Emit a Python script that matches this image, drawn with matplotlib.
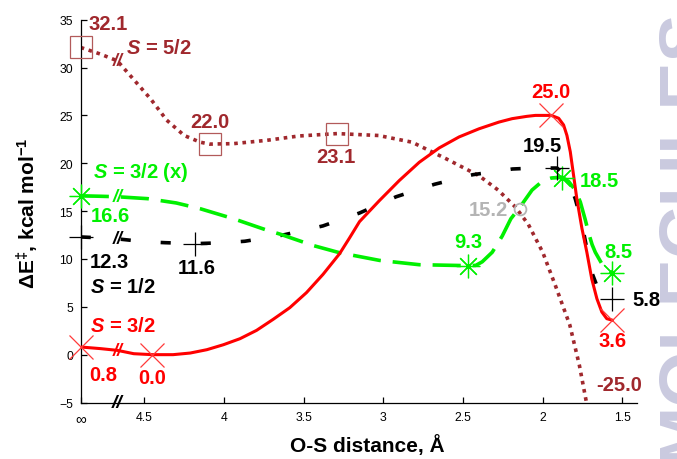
import numpy as np
import matplotlib
matplotlib.use('Agg')
import matplotlib.pyplot as plt

plt.rcParams['font.family'] = ['Liberation Sans', 'DejaVu Sans']
plt.rcParams['mathtext.fontset'] = 'custom'
plt.rcParams['mathtext.rm'] = 'Liberation Sans:bold'
plt.rcParams['mathtext.it'] = 'Liberation Sans:bold:italic'
plt.rcParams['mathtext.bf'] = 'Liberation Sans:bold'

# ---------------- data ----------------
INF = 4.9      # position used for the "infinity" point
BRK = 4.67     # axis-break position

x_ticks = [INF, 4.5, 4.0, 3.5, 3.0, 2.5, 2.0, 1.5]
x_ticklabels = ['\u221e', '4.5', '4', '3.5', '3', '2.5', '2', '1.5']
y_ticks = [-5, 0, 5, 10, 15, 20, 25, 30, 35]

# S = 3/2 (red, solid)
red_x = [INF, 4.775, 4.67, 4.567, 4.45, 4.32, 4.2125, 4.108, 4.004, 3.90, 3.796,
         3.692, 3.5875, 3.483, 3.379, 3.275, 3.2125, 3.15, 3.025, 2.90, 2.775,
         2.65, 2.525, 2.40, 2.275, 2.192, 2.10, 2.046, 1.946, 1.90, 1.869, 1.848,
         1.827, 1.806, 1.786, 1.754, 1.723, 1.692, 1.66, 1.629, 1.598, 1.5625]
red_y = [0.8, 0.63, 0.45, 0.1, 0.0, 0.0, 0.17, 0.52, 1.04, 1.67, 2.54,
         3.69, 4.91, 6.48, 8.39, 10.55, 12.2, 13.9, 16.1, 18.2, 20.1,
         21.6, 22.75, 23.6, 24.3, 24.66, 24.9, 25.0, 25.0, 24.7, 24.0, 22.9,
         21.2, 18.7, 16.3, 13.2, 10.7, 7.9, 5.85, 4.46, 3.76, 3.6]
red_mk_x = [INF, 4.45, 1.946, 1.5625]
red_mk_y = [0.8, 0.0, 25.0, 3.6]

# S = 5/2 (dark red, dotted)
dred_x = [INF, 4.775, 4.67, 4.57, 4.46, 4.36, 4.25, 4.15, 4.09, 3.94, 3.73, 3.53,
          3.29, 3.03, 2.82, 2.61, 2.40, 2.28, 2.17, 2.09, 2.00, 1.92, 1.83,
          1.77, 1.73, 1.68, 1.5625]
dred_y = [32.1, 31.4, 30.7, 28.8, 26.7, 24.5, 22.9, 22.2, 22.0, 22.05, 22.4, 22.85,
          23.1, 22.9, 22.2, 20.5, 18.7, 17.2, 15.4, 13.6, 10.7, 7.2, 3.1,
          -1.1, -4.6, -9.0, -25.0]
dred_mk_x = [INF, 4.09, 3.29]
dred_mk_y = [32.1, 22.0, 23.1]

# S = 3/2 (x) (green, long dashes)
grn_x = [INF, 4.775, 4.67, 4.48, 4.30, 4.15, 3.94, 3.73, 3.65, 3.44, 3.275, 3.025,
         2.775, 2.47, 2.42, 2.38, 2.317, 2.254, 2.233, 2.20, 2.15, 2.067, 2.004,
         1.946, 1.879, 1.8375, 1.796, 1.764, 1.733, 1.71, 1.69, 1.67, 1.629,
         1.5625]
grn_y = [16.6, 16.55, 16.5, 16.3, 15.85, 15.25, 14.2, 13.0, 12.6, 11.4, 10.65, 9.85,
         9.4, 9.3, 9.33, 9.7, 10.7, 12.4, 13.1, 14.2, 15.25, 17.2, 18.1,
         18.46, 18.55, 18.1, 17.2, 15.95, 14.1, 12.6, 11.5, 10.7, 9.5,
         8.5]
grn_mk_x = [INF, 2.47, 1.879, 1.5625]
grn_mk_y = [16.6, 9.3, 18.5, 8.5]

# S = 1/2 (black, short dashes)
blk_x = [INF, 4.775, 4.67, 4.50, 4.37, 4.18, 4.00, 3.87, 3.63, 3.38, 3.15, 2.92,
         2.68, 2.44, 2.19, 2.05, 1.91, 1.86, 1.83, 1.796, 1.77, 1.744, 1.72,
         1.692, 1.66, 1.62, 1.5625]
blk_y = [12.3, 12.2, 12.1, 11.8, 11.7, 11.6, 11.7, 11.85, 12.5, 13.45, 14.8, 16.5,
         17.8, 18.8, 19.4, 19.5, 19.5, 18.7, 17.8, 16.3, 14.7, 12.85, 10.8,
         8.6, 7.2, 6.3, 5.8]
blk_mk_x = [INF, 4.18, 1.91, 1.5625]
blk_mk_y = [12.3, 11.6, 19.5, 5.8]

# grey crossing point
gry_x = [2.145]
gry_y = [15.2]

# ---------------- style ----------------
RED = '#ff0000'
RED_MK = '#ff3a3a'
DRED = '#a0282d'
DRED_MK = '#b25a5a'
GRN = '#00f000'
BLK = '#000000'
GRY = '#b4b4b4'

fig = plt.figure(figsize=(6.77, 4.60), dpi=100)
ax = fig.add_axes([0.1192, 0.1228, 0.8213, 0.8322])

LW = 2.6
ax.plot(dred_x, dred_y, color=DRED, lw=LW, dashes=(1.0, 1.3), zorder=2)
ax.plot(blk_x, blk_y, color=BLK, lw=LW, dashes=(2.8, 8.3), zorder=3)
ax.plot(grn_x, grn_y, color=GRN, lw=LW, dashes=(7.8, 3.3), zorder=4)
ax.plot(red_x, red_y, color=RED, lw=2.2, zorder=5, solid_joinstyle='round')

MS = 17
ax.plot(red_mk_x, red_mk_y, ls='none', marker='x', ms=MS, mew=0.9,
        color=RED_MK, zorder=6, clip_on=False)
ax.plot(dred_mk_x, dred_mk_y, ls='none', marker='s', ms=16, mew=0.9,
        mfc='none', mec=DRED_MK, zorder=6, clip_on=False)
ax.plot(grn_mk_x, grn_mk_y, ls='none', marker=(8, 2, 0), ms=MS, mew=0.9,
        color=GRN, zorder=6, clip_on=False)
ax.plot(blk_mk_x, blk_mk_y, ls='none', marker='+', ms=MS, mew=0.9,
        color=BLK, zorder=6, clip_on=False)
ax.plot(gry_x, gry_y, ls='none', marker='o', ms=8.5, mew=1.3,
        mfc='none', mec=GRY, zorder=6)

FS = 14.5


def lab(txt, x, y, dx, dy, color):
    ax.annotate(txt, xy=(x, y), xytext=(dx, dy), textcoords='offset pixels',
                ha='center', va='center', fontsize=FS, fontweight='bold',
                color=color, zorder=8, annotation_clip=False)


def fmt(v):
    return f'{v:.1f}'


dred_off = [(27, 24), (0, 23), (-1, -23)]
for (x, y), (dx, dy) in zip(zip(dred_mk_x, dred_mk_y), dred_off):
    lab(fmt(y), x, y, dx, dy, DRED)
lab(fmt(dred_y[-1]), dred_x[-1], -5, 7, 18.5, DRED)
lab('$S$ = 5/2', dred_mk_x[0], dred_mk_y[0], 78, 0, DRED)

red_off = [(23, -27), (0, -23), (0, 24), (0, -20)]
for (x, y), (dx, dy) in zip(zip(red_mk_x, red_mk_y), red_off):
    lab(fmt(y), x, y, dx, dy, RED)
lab('$S$ = 3/2', red_mk_x[0], red_mk_y[0], 42, 22, RED)

grn_off = [(30, -20), (0, 24), (37, -3), (6, 22)]
for (x, y), (dx, dy) in zip(zip(grn_mk_x, grn_mk_y), grn_off):
    lab(fmt(y), x, y, dx, dy, GRN)
lab('$S$ = 3/2 (x)', grn_mk_x[0], grn_mk_y[0], 60, 24, GRN)

blk_off = [(29, -25), (1, -24), (-15, 23), (34, 0)]
for (x, y), (dx, dy) in zip(zip(blk_mk_x, blk_mk_y), blk_off):
    lab(fmt(y), x, y, dx, dy, BLK)
lab('$S$ = 1/2', blk_mk_x[0], blk_mk_y[0], 42, -50, BLK)

lab(fmt(gry_y[0]), gry_x[0], gry_y[0], -31, 0, GRY)

# axis-break marks on each curve and on the x-axis
for xs, ys, c in [(red_x, red_y, RED), (dred_x, dred_y, DRED),
                  (grn_x, grn_y, GRN), (blk_x, blk_y, BLK)]:
    yb = np.interp(BRK, xs[::-1], ys[::-1])
    ax.text(BRK, yb, '//', ha='center', va='center', fontsize=13,
            fontweight='bold', fontstyle='italic', color=c, zorder=9)
ax.text(BRK, -5, '//', ha='center', va='center', fontsize=14,
        fontweight='bold', fontstyle='italic', color=BLK, zorder=9, clip_on=False)

# axes
ax.set_xlim(INF, 1.41)
ax.set_ylim(-5, 35)
ax.set_xticks(x_ticks)
ax.set_xticklabels(x_ticklabels)
ax.set_yticks(y_ticks)
for s in ['top', 'right']:
    ax.spines[s].set_visible(False)
for s in ['left', 'bottom']:
    ax.spines[s].set_linewidth(0.9)
ax.tick_params(direction='in', length=4, width=0.9, labelsize=8.8)
ax.tick_params(axis='x', pad=6)
ax.tick_params(axis='y', pad=5.5)
ax.get_xticklabels()[0].set_fontsize(11)

ax.set_xlabel('O-S distance, \u00c5', fontsize=15, fontweight='bold')
ax.xaxis.set_label_coords(0.516, -0.082)
ax.set_ylabel('\u0394E$^{\u2021}$, kcal mol$^{-1}$', fontsize=15, fontweight='bold')
ax.yaxis.set_label_coords(-0.071, 0.496)

# watermark
fig.text(0.964, -0.005, 'MOLECULES', rotation=90, ha='left', va='bottom',
         fontsize=52, fontweight='bold', color='#cacadf', zorder=0)

fig.savefig('out.png', dpi=100)
